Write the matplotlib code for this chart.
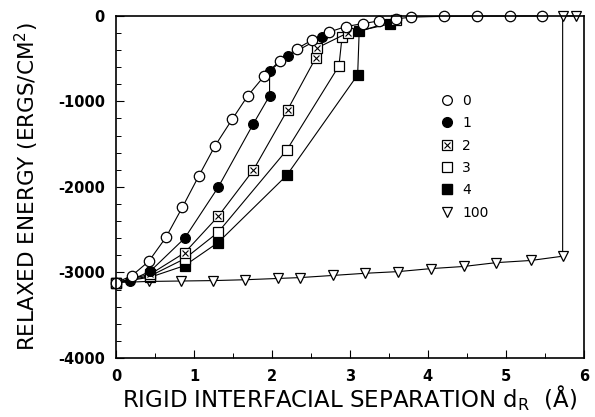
import matplotlib
matplotlib.use("Agg")
import matplotlib.pyplot as plt
from matplotlib.lines import Line2D
from matplotlib.legend_handler import HandlerTuple
from matplotlib.ticker import MultipleLocator

plt.rcParams['font.family'] = ['DejaVu Sans']
plt.rcParams['mathtext.default'] = 'regular'
plt.rcParams['axes.unicode_minus'] = False

# Series 0 (open circles)
x0 = [0.0, 0.20, 0.42, 0.64, 0.85, 1.06, 1.27, 1.49, 1.69, 1.90, 2.10, 2.32, 2.52, 2.73,
      2.95, 3.17, 3.37, 3.59, 3.79, 4.21, 4.63, 5.05, 5.47]
y0 = [-3118, -3040, -2870, -2590, -2240, -1875, -1520, -1210, -935, -705, -525, -385, -280, -190,
      -125, -90, -60, -35, -15, -5, -3, -2, -1]
# Series 1 (filled circles)
x1 = [0.0, 0.18, 0.44, 0.88, 1.31, 1.76, 1.97, 1.97, 2.20, 2.64]
y1 = [-3118, -3095, -2985, -2600, -2005, -1265, -935, -645, -470, -250]
# Series 2 (crossed squares)
x2 = [0.0, 0.44, 0.88, 1.31, 1.76, 2.20, 2.56, 2.58, 2.97]
y2 = [-3118, -3020, -2770, -2345, -1805, -1100, -495, -375, -200]
# Series 3 (open squares)
x3 = [0.0, 0.44, 0.88, 1.31, 2.19, 2.86, 2.90, 3.59]
y3 = [-3118, -3040, -2840, -2530, -1570, -585, -245, -50]
# Series 4 (filled squares)
x4 = [0.0, 0.44, 0.88, 1.31, 2.19, 3.10, 3.12, 3.51]
y4 = [-3118, -3055, -2920, -2650, -1865, -690, -175, -95]
# Series 100 (open down-triangles)
x100 = [0.0, 0.42, 0.83, 1.25, 1.66, 2.08, 2.36, 2.78, 3.19, 3.62, 4.04, 4.46, 4.88, 5.32, 5.73, 5.73, 5.90]
y100 = [-3118, -3105, -3100, -3095, -3085, -3070, -3060, -3035, -3010, -2990, -2955, -2930, -2885, -2860, -2810, 0, 0]

labels = ['0', '1', '2', '3', '4', '100']

fig = plt.figure(figsize=(5.95, 4.17), dpi=100)
ax = fig.add_axes([0.195, 0.1415, 0.786, 0.8205])

lw = 0.8
common = dict(color='black', lw=lw, clip_on=False, markeredgewidth=0.9, markeredgecolor='black')
ax.plot(x100, y100, marker='v', ms=7, mfc='white', **common)
ax.plot(x4, y4, marker='s', ms=6.5, mfc='black', **common)
ax.plot(x3, y3, marker='s', ms=6.5, mfc='white', **common)
ax.plot(x2, y2, marker='s', ms=6.5, mfc='white', **common)
ax.plot(x2, y2, marker='x', ms=5, ls='none', color='black', mew=0.8, clip_on=False)
ax.plot(x1, y1, marker='o', ms=7, mfc='black', **common)
ax.plot(x0, y0, marker='o', ms=7.5, mfc='white', **common)

ax.set_xlim(0, 6)
ax.set_ylim(-4000, 0)
ax.xaxis.set_major_locator(MultipleLocator(1))
ax.xaxis.set_minor_locator(MultipleLocator(0.5))
ax.yaxis.set_major_locator(MultipleLocator(1000))
ax.yaxis.set_minor_locator(MultipleLocator(200))
ax.tick_params(which='both', direction='in', top=False, right=False)
ax.tick_params(which='major', length=6, width=0.8, labelsize=10.5, pad=8)
ax.tick_params(which='minor', length=3.5, width=0.7)
for t in ax.get_xticklabels() + ax.get_yticklabels():
    t.set_fontweight('bold')
for s in ax.spines.values():
    s.set_linewidth(1.2)

ax.set_xlabel('RIGID INTERFACIAL SEPARATION d$_\\mathregular{R}$  (Å)', fontsize=16.5, labelpad=-1)
ax.set_ylabel('RELAXED ENERGY (ERGS/CM$^\\mathregular{2}$)', fontsize=15.5, labelpad=12)

h0 = Line2D([], [], marker='o', ls='none', ms=7, mfc='white', mec='black', mew=0.9)
h1 = Line2D([], [], marker='o', ls='none', ms=7, mfc='black', mec='black')
h2a = Line2D([], [], marker='s', ls='none', ms=6.5, mfc='white', mec='black', mew=0.9)
h2b = Line2D([], [], marker='x', ls='none', ms=5, color='black', mew=0.8)
h3 = Line2D([], [], marker='s', ls='none', ms=6.5, mfc='white', mec='black', mew=0.9)
h4 = Line2D([], [], marker='s', ls='none', ms=6.5, mfc='black', mec='black')
h100 = Line2D([], [], marker='v', ls='none', ms=7, mfc='white', mec='black', mew=0.9)
leg = ax.legend([h0, h1, (h2a, h2b), h3, h4, h100], labels,
                handler_map={tuple: HandlerTuple(ndivide=1, pad=0)},
                loc='upper left', bbox_to_anchor=(433 / 595, 1 - 87 / 417),
                bbox_transform=fig.transFigure, frameon=False, fontsize=10,
                handlelength=1.0, handletextpad=0.6, labelspacing=0.6, borderpad=0)

fig.savefig('out.png', dpi=100)
